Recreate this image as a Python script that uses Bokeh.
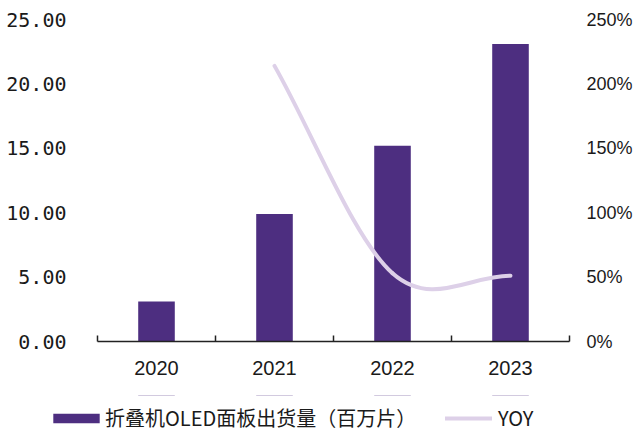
from bokeh.plotting import figure
from bokeh.layouts import column
from bokeh.models import (Range1d, LinearAxis, FixedTicker, Legend, LegendItem,
                          ColumnDataSource, NumeralTickFormatter)
from bokeh.embed import file_html
from bokeh.resources import INLINE

# ---- data ----
years = ["2020", "2021", "2022", "2023"]
shipments = [3.1, 9.9, 15.2, 23.1]          # 折叠机OLED面板出货量（百万片）
yoy = [None, 2.14, 0.53, 0.51]              # YOY
left_ticks = [0, 5, 10, 15, 20, 25]
right_ticks = [0, 0.5, 1.0, 1.5, 2.0, 2.5]
bar_label = "折叠机OLED面板出货量（百万片）"
line_label = "YOY"

BAR = "#4D2E80"
LINE = "#DDD0E8"
TXT = "#1a1a1a"

n = len(years)
xc = [i + 0.5 for i in range(n)]
X_PAD = 49 / 118  # empty room left of the category axis (frame starts under the legend swatch)

main = figure(width=637, height=395, x_range=Range1d(-X_PAD, n), y_range=Range1d(0, 25),
              output_backend="svg", toolbar_location=None,
              min_border_left=48, min_border_right=68, min_border_top=19, min_border_bottom=54)
main.outline_line_color = None
main.xgrid.grid_line_color = None
main.ygrid.grid_line_color = None
main.extra_y_ranges = {"yoy": Range1d(0, 2.5)}

# bars
src = ColumnDataSource(dict(x=xc, y=shipments))
main.vbar(x="x", top="y", width=0.31, source=src, fill_color=BAR, line_color=None)

# smooth YOY line: cubic bezier segments through the data points
pts = [(x, v) for x, v in zip(xc, yoy) if v is not None]
x0s, y0s, x1s, y1s, cx0s, cy0s, cx1s, cy1s = ([] for _ in range(8))
m = len(pts)
def tangent(i):
    if i == 0:
        return (pts[1][0] - pts[0][0], pts[1][1] - pts[0][1])
    if i == m - 1:
        return (pts[i][0] - pts[i - 1][0], pts[i][1] - pts[i - 1][1])
    return ((pts[i + 1][0] - pts[i - 1][0]) / 2, (pts[i + 1][1] - pts[i - 1][1]) / 2)
for i in range(m - 1):
    t0 = tangent(i)
    t1 = tangent(i + 1)
    x0s.append(pts[i][0]); y0s.append(pts[i][1])
    x1s.append(pts[i + 1][0]); y1s.append(pts[i + 1][1])
    cx0s.append(pts[i][0] + t0[0] / 3); cy0s.append(pts[i][1] + t0[1] / 3)
    cx1s.append(pts[i + 1][0] - t1[0] / 3); cy1s.append(pts[i + 1][1] - t1[1] / 3)
bsrc = ColumnDataSource(dict(x0=x0s, y0=y0s, x1=x1s, y1=y1s, cx0=cx0s, cy0=cy0s, cx1=cx1s, cy1=cy1s))
main.bezier(x0="x0", y0="y0", x1="x1", y1="y1", cx0="cx0", cy0="cy0", cx1="cx1", cy1="cy1",
            source=bsrc, line_color=LINE, line_width=4, line_cap="round", y_range_name="yoy")

# x axis
xa = main.xaxis[0]
xa.bounds = (0, n)
xa.ticker = FixedTicker(ticks=xc, minor_ticks=list(range(n + 1)))
xa.major_label_overrides = {x: y for x, y in zip(xc, years)}
xa.major_tick_line_color = None
xa.major_tick_in = 0
xa.major_tick_out = 0
xa.minor_tick_in = 6
xa.minor_tick_out = 0
xa.minor_tick_line_color = "#222222"
xa.minor_tick_line_width = 1.5
xa.axis_line_color = "#222222"
xa.axis_line_width = 1.5
xa.major_label_standoff = 19
xa.major_label_text_font = "Liberation Sans"
xa.major_label_text_font_size = "20px"
xa.major_label_text_color = TXT

# left axis (labels reach into the empty left part of the frame)
ya = main.yaxis[0]
ya.ticker = FixedTicker(ticks=left_ticks)
ya.formatter = NumeralTickFormatter(format="0.00")
ya.axis_line_color = None
ya.major_tick_line_color = None
ya.minor_tick_line_color = None
ya.major_tick_in = 0
ya.major_tick_out = 0
ya.minor_tick_in = 0
ya.minor_tick_out = 0
ya.major_label_standoff = -18
ya.major_label_text_font = "DejaVu Sans Mono"
ya.major_label_text_font_size = "20px"
ya.major_label_text_color = TXT

# right axis
ra = LinearAxis(y_range_name="yoy")
ra.ticker = FixedTicker(ticks=right_ticks)
ra.formatter = NumeralTickFormatter(format="0%")
ra.axis_line_color = None
ra.major_tick_line_color = None
ra.minor_tick_line_color = None
ra.major_tick_in = 0
ra.major_tick_out = 0
ra.minor_tick_in = 0
ra.minor_tick_out = 0
ra.major_label_standoff = 17
ra.major_label_text_font = "Liberation Sans"
ra.major_label_text_font_size = "18px"
ra.major_label_text_color = TXT
main.add_layout(ra, "right")

# ---- legend strip (frame aligned under the main frame) ----
# the strip's y range lies below all data, so its renderers only serve as legend swatches
lf = figure(width=637, height=36, x_range=Range1d(-X_PAD, n), y_range=Range1d(-2, -1),
            output_backend="svg", toolbar_location=None, x_axis_type=None, y_axis_type=None,
            min_border_left=48, min_border_right=68, min_border_top=0, min_border_bottom=0)
lf.outline_line_color = None
lf.xgrid.grid_line_color = None
lf.ygrid.grid_line_color = None
bar_proxy = lf.vbar(x="x", top="y", width=0.31, source=src, fill_color=BAR, line_color=None)
line_proxy = lf.segment(x0="x0", y0="y0", x1="x1", y1="y1", source=bsrc,
                        line_color=LINE, line_width=4, line_cap="round")

common = dict(orientation="horizontal", padding=0, margin=0, border_line_color=None,
              background_fill_alpha=0, label_text_font="Noto Sans CJK SC",
              label_text_font_size="20px", label_text_color=TXT)
leg1 = Legend(items=[LegendItem(label=bar_label, renderers=[bar_proxy])],
              location=(-1, -1), glyph_width=58, glyph_height=12, label_standoff=0, **common)
leg2 = Legend(items=[LegendItem(label=line_label, renderers=[line_proxy])],
              location=(397, -1), glyph_width=47, glyph_height=12, label_standoff=6, **common)
lf.add_layout(leg1, "center")
lf.add_layout(leg2, "center")

p = column(main, lf, spacing=0)
open("out.html", "w").write(file_html(p, INLINE))
